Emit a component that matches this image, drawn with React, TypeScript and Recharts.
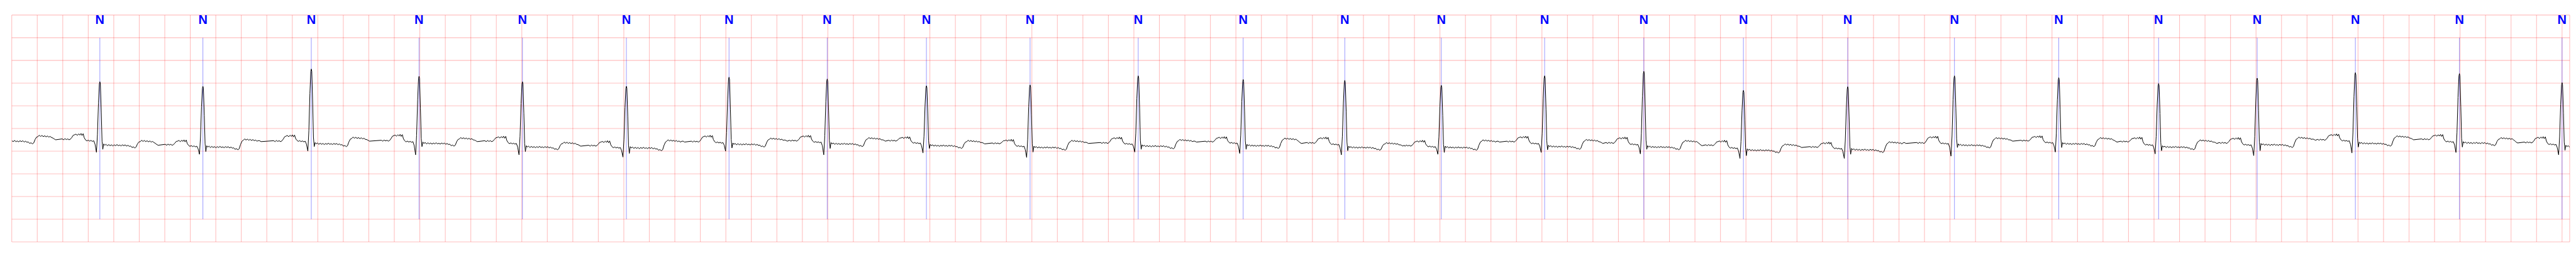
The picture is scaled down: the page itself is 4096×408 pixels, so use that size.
import React from "react";
import {
  LineChart,
  Line,
  XAxis,
  YAxis,
  CartesianGrid,
  ReferenceLine,
} from "recharts";

// R-peak times (s) of each annotated beat; beat 0 sits just before the strip
const rTimes = [
  -0.112, 0.691, 1.499, 2.349, 3.194, 4.005, 4.82, 5.625, 6.395, 7.173, 7.986,
  8.834, 9.657, 10.454, 11.211, 12.021, 12.799, 13.58, 14.398, 15.235, 16.053,
  16.836, 17.609, 18.379, 19.195, 20.0,
];
const beatLabels = [
  "", "N", "N", "N", "N", "N", "N", "N", "N", "N", "N", "N", "N", "N", "N",
  "N", "N", "N", "N", "N", "N", "N", "N", "N", "N", "N",
];

// amplitudes (mV) read per beat
const rAmp = [
  1.0, 1.03, 0.93, 1.31, 1.15, 1.03, 0.93, 1.13, 1.09, 0.94, 0.96, 1.16, 1.08,
  1.06, 0.95, 1.16, 1.26, 0.84, 0.92, 1.16, 1.12, 0.99, 1.11, 1.23, 1.21, 1.01,
];
const qAmp = [
  -0.55, -0.525, -0.57, -0.5, -0.58, -0.58, -0.63, -0.5, -0.58, -0.54, -0.64,
  -0.52, -0.55, -0.58, -0.57, -0.53, -0.56, -0.66, -0.66, -0.61, -0.52, -0.56,
  -0.6, -0.54, -0.53, -0.58,
];
const sAmp = [
  -0.45, -0.46, -0.51, -0.4, -0.4, -0.51, -0.55, -0.43, -0.44, -0.44, -0.52,
  -0.46, -0.46, -0.49, -0.53, -0.47, -0.46, -0.6, -0.57, -0.42, -0.42, -0.49,
  -0.49, -0.41, -0.41, -0.48,
];
const stLevel = [
  -0.28, -0.37, -0.41, -0.34, -0.33, -0.41, -0.43, -0.35, -0.34, -0.38, -0.42,
  -0.39, -0.38, -0.42, -0.42, -0.4, -0.41, -0.48, -0.47, -0.37, -0.34, -0.41,
  -0.36, -0.33, -0.32, -0.4,
];
const tLevel = [
  -0.17, -0.28, -0.25, -0.21, -0.22, -0.32, -0.27, -0.23, -0.22, -0.28, -0.28,
  -0.26, -0.23, -0.33, -0.27, -0.26, -0.28, -0.36, -0.31, -0.22, -0.22, -0.27,
  -0.21, -0.18, -0.22, -0.4,
];
const tpLevel = [
  -0.24, -0.36, -0.28, -0.27, -0.28, -0.38, -0.29, -0.27, -0.27, -0.33, -0.32,
  -0.29, -0.32, -0.38, -0.29, -0.32, -0.37, -0.41, -0.32, -0.27, -0.29, -0.32,
  -0.25, -0.24, -0.31, -0.4,
];
const pLevel = [
  0, -0.12, -0.26, -0.15, -0.14, -0.18, -0.28, -0.16, -0.16, -0.19, -0.25,
  -0.2, -0.19, -0.2, -0.27, -0.18, -0.2, -0.27, -0.31, -0.18, -0.17, -0.2,
  -0.21, -0.13, -0.14, -0.19,
];
const prLevel = [
  0, -0.27, -0.39, -0.28, -0.29, -0.33, -0.42, -0.31, -0.3, -0.32, -0.39,
  -0.34, -0.32, -0.35, -0.4, -0.33, -0.35, -0.43, -0.44, -0.33, -0.31, -0.36,
  -0.36, -0.27, -0.29, -0.35,
];

// beat shape: [ms from R, level a, level b, fraction, offset]
type Pt = [number, string, string, number, number];
const preShape: Pt[] = [
  [-295, "w", "w", 0, 0.01], [-284, "w", "w", 0, -0.01], [-274, "w", "w", 0, 0.015],
  [-263, "w", "w", 0, -0.005], [-252, "w", "w", 0, 0.01], [-241, "w", "w", 0, -0.01],
  [-231, "w", "w", 0, 0.005], [-220, "w", "p", 0.35, 0], [-209, "w", "p", 0.75, 0],
  [-199, "p", "p", 0, -0.02], [-188, "p", "p", 0, -0.005], [-177, "p", "p", 0, -0.03],
  [-166, "p", "p", 0, 0], [-156, "p", "p", 0, -0.025], [-148, "p", "p", 0, 0.01],
  [-140, "p", "p", 0, -0.035], [-131, "p", "p", 0, 0.005], [-123, "p", "pr", 0.55, 0],
  [-113, "pr", "pr", 0, 0.02], [-102, "pr", "pr", 0, -0.005], [-91, "pr", "pr", 0, 0.012],
  [-80, "pr", "pr", 0, -0.01], [-70, "pr", "pr", 0, 0.006], [-59, "pr", "pr", 0, -0.015],
  [-48, "pr", "pr", 0, 0], [-38, "pr", "q", 0.3, 0], [-27, "q", "q", 0, 0],
  [-19, "q", "r", 0.25, 0], [-11, "q", "r", 0.7, 0], [-4, "q", "r", 0.97, 0],
  [0, "r", "r", 0, 0],
];
const postShape: Pt[] = [
  [4, "r", "s", 0.03, 0], [11, "r", "s", 0.45, 0], [17, "r", "s", 0.88, 0],
  [23, "s", "s", 0, 0], [30, "st", "st", 0, 0.03], [38, "st", "st", 0, 0],
  [48, "st", "st", 0, 0.02], [59, "st", "st", 0, -0.01], [70, "st", "st", 0, 0.015],
  [80, "st", "st", 0, -0.01], [91, "st", "st", 0, 0.01], [102, "st", "st", 0, -0.015],
  [113, "st", "st", 0, 0.01], [123, "st", "st", 0, -0.01], [134, "st", "st", 0, 0.015],
  [145, "st", "st", 0, -0.01], [156, "st", "st", 0, 0.005], [166, "st", "st", 0, -0.015],
  [177, "st", "st", 0, 0.01], [188, "st", "st", 0, -0.01], [199, "st", "st", 0, 0.01],
  [209, "st", "st", 0, -0.02], [220, "st", "st", 0, 0], [231, "st", "st", 0, -0.025],
  [241, "st", "st", 0, -0.015], [252, "st", "st", 0, -0.05], [263, "st", "st", 0, -0.035],
  [274, "st", "st", 0, -0.06], [284, "st", "st", 0, -0.04], [295, "st", "t", 0.35, 0],
  [306, "st", "t", 0.8, 0], [317, "t", "t", 0, -0.01], [327, "t", "t", 0, 0.02],
  [338, "t", "t", 0, -0.005], [349, "t", "t", 0, 0.015], [360, "t", "t", 0, -0.01],
  [370, "t", "t", 0, 0.01], [381, "t", "t", 0, -0.015], [392, "t", "t", 0, 0.005],
  [402, "t", "t", 0, -0.02], [413, "t", "t", 0, -0.005], [424, "t", "t", 0, -0.03],
  [435, "t", "tp", 0.6, 0], [445, "tp", "tp", 0, 0.01], [456, "tp", "tp", 0, -0.01],
];

const X_MAX = 20.06;
const xTicks: number[] = [];
for (let k = 0; k <= 100; k++) xTicks.push(+(k * 0.2).toFixed(1));
const yTicks = [-2.5, -2, -1.5, -1, -0.5, 0, 0.5, 1, 1.5, 2];

const buildTrace = () => {
  const out: { t: number; v: number }[] = [];
  rTimes.forEach((rt, i) => {
    const L: Record<string, number> = {
      w: i > 0 ? tpLevel[i - 1] : tpLevel[0],
      p: pLevel[i],
      pr: prLevel[i],
      q: qAmp[i],
      r: rAmp[i],
      s: sAmp[i],
      st: stLevel[i],
      t: tLevel[i],
      tp: tpLevel[i],
    };
    const shape = i > 0 ? [...preShape, ...postShape] : postShape;
    shape.forEach(([ms, a, b, f, d]) => {
      const t = rt + ms / 1000;
      if (t < 0 || t > X_MAX) return;
      out.push({ t: +t.toFixed(4), v: L[a] + f * (L[b] - L[a]) + d });
    });
  });
  return out.sort((m, n) => m.t - n.t);
};

const trace = buildTrace();

const renderBeatLabel = (text: string) => (props: any) => {
  const vb = props.viewBox || {};
  return (
    <text
      x={vb.x}
      y={vb.y - 21.7}
      textAnchor="middle"
      fill="#0000ff"
      fontSize={20}
      fontWeight="bold"
      fontFamily="'Liberation Sans', Arial, sans-serif"
    >
      {text}
    </text>
  );
};

export default function App() {
  return (
    <div style={{ position: "absolute", left: 0, top: 0, background: "#fff" }}>
      <LineChart
        width={4096}
        height={408}
        data={trace}
        margin={{ top: 23.9, right: 10, bottom: 24, left: 18.7 }}
      >
        <CartesianGrid
          stroke="#ff0000"
          strokeOpacity={0.25}
          strokeWidth={1.1}
        />
        <XAxis
          type="number"
          dataKey="t"
          domain={[0, X_MAX]}
          ticks={xTicks}
          allowDataOverflow
          hide
        />
        <YAxis type="number" domain={[-2.5, 2.5]} ticks={yTicks} hide />
        {rTimes.map((rt, i) =>
          beatLabels[i] ? (
            <ReferenceLine
              key={i}
              segment={[
                { x: rt, y: 2 },
                { x: rt, y: -2 },
              ]}
              stroke="#0000ff"
              strokeOpacity={0.5}
              strokeWidth={0.8}
              label={renderBeatLabel(beatLabels[i])}
            />
          ) : null
        )}
        <Line
          type="linear"
          dataKey="v"
          stroke="#000000"
          strokeWidth={1}
          dot={false}
          isAnimationActive={false}
        />
      </LineChart>
    </div>
  );
}
